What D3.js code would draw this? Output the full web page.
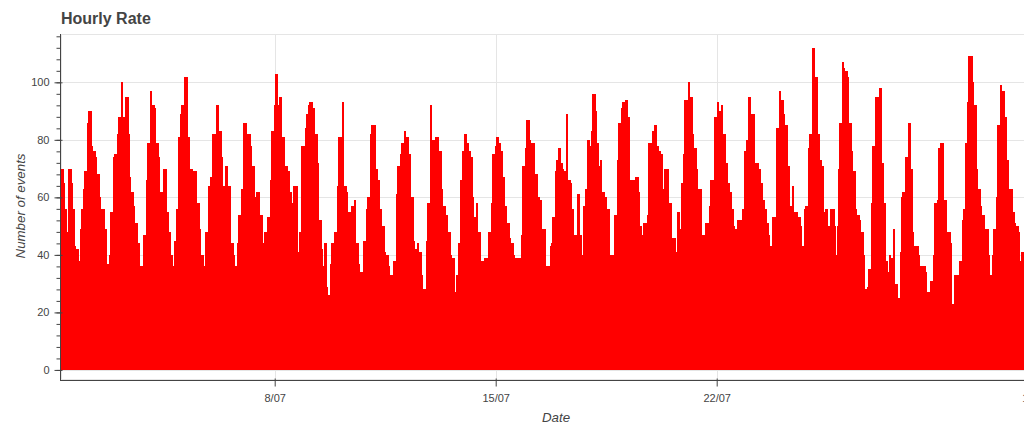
<!DOCTYPE html>
<html>
<head>
<meta charset="utf-8">
<script src="https://cdn.jsdelivr.net/npm/d3@7"></script>
<style>
  html, body { margin: 0; padding: 0; background: #fff; overflow: hidden; }
  svg { display: block; font-family: "Liberation Sans", Arial, Helvetica, sans-serif; }
</style>
</head>
<body>
<svg id="chart" width="1024" height="426"></svg>
<script>
// ---------------- data (hourly event counts) ----------------
const firstHour = "2019-07-01T06:00:00Z"; // first visible hourly bar
const countsJul01to04 = [70,70,65,56,48,48,70,70,65,56,43,42,42,38,38,49,56,63,69,69,86,90,90,78,76,76,74,68,68,60,56,56,56,49,49,37,33,40,55,55,74,75,75,82,88,88,100,88,88,95,95,82,67,62,62,57,51,51,44,44,36,36,36,47,47,66,79,79,97,92,92,91,79,79,74,62,62,61,70,70,55,55,48,40,40,36,45,45,56,81,81,89];
const countsJul05to08 = [92,92,102,102,81,81,70,70,58,69,69,58,58,49,40,40,36,32,48,48,64,64,67,82,82,82,92,92,83,83,74,64,64,71,71,64,64,44,44,40,36,36,44,54,54,63,63,86,86,79,82,82,78,71,71,60,60,62,62,54,54,44,44,48,48,53,53,66,83,83,92,103,103,92,95,95,81,81,71,71,69,69,62,58,58,64,64,64,41,48,48,78,78];
const countsJul09to12 = [78,84,89,92,93,93,91,91,82,82,72,52,52,42,36,44,44,29,26,26,37,44,44,48,48,64,81,81,81,93,64,64,62,55,55,48,57,57,59,44,44,37,34,34,28,45,45,56,60,60,82,85,85,85,70,70,66,56,56,50,50,41,40,40,36,33,33,28,38,38,61,71,71,75,79,79,83,81,81,66,75,60,60,45,42,42,44,41,41,33,28,28];
const countsJul12to16 = [28,45,58,58,92,80,80,76,81,81,76,76,63,57,57,48,54,48,48,40,39,39,27,27,33,44,44,66,76,76,82,79,79,76,74,74,60,53,53,58,48,48,38,38,38,39,39,32,48,48,58,75,75,78,81,81,79,76,76,67,57,57,51,51,46,44,44,40,39,39,36,39,39,47,71,71,77,87,87,80,79,79,79,68,68,60,60,59,49,49,49,36,36];
const countsJul16to20 = [36,36,43,44,53,53,69,73,77,77,72,70,69,69,89,66,66,65,56,56,47,47,47,61,47,47,40,57,57,63,80,80,78,83,96,96,90,79,79,71,73,62,62,53,60,56,56,40,40,40,40,54,54,73,86,86,91,93,93,94,94,88,66,66,66,66,65,67,67,62,50,43,47,51,51,38,54,79,79,75,83,85,85,78,76,76,75,63,63,70,70];
const countsJul20to24 = [70,50,58,46,46,46,41,41,55,49,49,65,75,94,94,92,100,95,95,82,77,77,70,63,63,63,47,47,43,51,51,51,57,66,66,66,88,88,93,90,90,92,82,82,72,72,65,62,62,56,50,49,49,52,52,52,38,56,56,76,80,80,95,89,89,89,72,72,72,70,70,65,59,59,56,51,51,47,43,43,53,53,53,84,84,97,94,94,89,85,85,71];
const countsJul24to27 = [71,57,57,64,55,55,55,53,53,50,43,43,56,57,57,77,82,82,112,112,102,102,82,82,73,71,71,55,56,56,50,50,56,56,56,50,40,50,70,86,86,107,105,104,104,102,86,86,76,69,69,56,54,54,52,48,48,40,28,28,29,35,35,58,78,78,95,95,95,98,98,72,58,58,38,34,34,40,39,39,49,30,30,25,25,41,60,62,62,74,74];
const countsJul28to31 = [86,86,70,48,43,43,43,43,40,36,36,36,36,34,27,27,21,31,31,40,58,58,59,77,77,79,79,59,59,48,48,48,44,23,23,33,33,33,33,38,38,52,56,56,79,93,109,109,109,100,92,92,70,63,63,57,54,54,45,49,49,40,33,33,40,49,49,60,85,85,99,96,97,88,88,73,63,63,63,55,55,51,50,50,48,38,41,41,40];

const xTickDates = ["2019-07-01", "2019-07-08", "2019-07-15", "2019-07-22", "2019-08-01"];
const yMajorTicks = [0, 20, 40, 60, 80, 100];
const yMinorTicks = [0,4,8,12,16,20,24,28,32,36,40,44,48,52,56,60,64,68,72,76,80,84,88,92,96,100,104,108,112,116];
const titleText = "Hourly Rate";
const xTitle = "Date";
const yTitle = "Number of events";

// ---------------- build ----------------
const counts = [].concat(countsJul01to04, countsJul05to08, countsJul09to12, countsJul12to16,
                         countsJul16to20, countsJul20to24, countsJul24to27, countsJul28to31);
const t0 = new Date(firstHour).getTime();
const HOUR = 3600 * 1000;
const data = counts.map((v, i) => ({ t: new Date(t0 + i * HOUR), v }));

const svg = d3.select("#chart");
const frame = { left: 61, right: 1060, top: 34, bottom: 380 };

const x = d3.scaleUtc()
  .domain([new Date("2019-07-01T00:00:00Z"), new Date("2019-08-01T00:00:00Z")])
  .range([53.7, 1032.4]);
const y = d3.scaleLinear().domain([-3.5, 116.8]).range([frame.bottom, frame.top]);

const textColor = "#444444";
const axisColor = "#444444";

// clip
svg.append("defs").append("clipPath").attr("id", "plotclip")
  .append("rect").attr("x", frame.left).attr("y", frame.top)
  .attr("width", frame.right - frame.left).attr("height", frame.bottom - frame.top);

// outline
svg.append("rect")
  .attr("x", frame.left + 0.5).attr("y", frame.top + 0.5)
  .attr("width", frame.right - frame.left).attr("height", frame.bottom - frame.top - 1)
  .attr("fill", "none").attr("stroke", "#e5e5e5");

// grid
const grid = svg.append("g").attr("clip-path", "url(#plotclip)");
grid.selectAll("line.hg").data(yMajorTicks).join("line")
  .attr("x1", frame.left).attr("x2", frame.right)
  .attr("y1", d => Math.round(y(d)) + 0.5).attr("y2", d => Math.round(y(d)) + 0.5)
  .attr("stroke", "#e5e5e5");
grid.selectAll("line.vg").data(xTickDates.map(d => new Date(d + "T00:00:00Z"))).join("line")
  .attr("y1", frame.top).attr("y2", frame.bottom)
  .attr("x1", d => Math.round(x(d)) + 0.5).attr("x2", d => Math.round(x(d)) + 0.5)
  .attr("stroke", "#e5e5e5");

// bars (edges snapped to whole pixels so neighbouring bars leave no seams)
const halfHour = HOUR / 2;
const xl = d => Math.floor(x(new Date(d.t.getTime() - halfHour)));
const xr = d => Math.ceil(x(new Date(d.t.getTime() + halfHour)));
svg.append("g").attr("clip-path", "url(#plotclip)")
  .attr("shape-rendering", "crispEdges")
  .selectAll("rect").data(data).join("rect")
  .attr("x", xl)
  .attr("width", d => xr(d) - xl(d))
  .attr("y", d => Math.round(y(d.v)))
  .attr("height", d => Math.round(y(0)) - Math.round(y(d.v)))
  .attr("fill", "#ff0000");

// y axis
const yAxisG = svg.append("g").attr("transform", `translate(${frame.left - 0.5},0)`);
yAxisG.append("line").attr("x1", 0).attr("x2", 0).attr("y1", frame.top).attr("y2", frame.bottom)
  .attr("stroke", axisColor);
const yMinor = d3.axisLeft(y).tickValues(yMinorTicks).tickSize(4).tickFormat("");
const yMinorG = yAxisG.append("g").call(yMinor);
yMinorG.select(".domain").remove();
yMinorG.selectAll("line").attr("stroke", axisColor);
const yMajor = d3.axisLeft(y).tickValues(yMajorTicks).tickSize(6).tickPadding(5);
const yMajorG = yAxisG.append("g").call(yMajor);
yMajorG.select(".domain").remove();
yMajorG.selectAll("line").attr("x1", 2).attr("stroke", axisColor);
yMajorG.selectAll("text").attr("fill", textColor).style("font-size", "11px")
  .style("font-family", '"Liberation Sans", Arial, sans-serif');

// x axis
const xAxisG = svg.append("g").attr("transform", `translate(0,${frame.bottom + 0.5})`);
xAxisG.append("line").attr("x1", frame.left - 1).attr("x2", frame.right).attr("y1", 0).attr("y2", 0)
  .attr("stroke", axisColor);
const xAxis = d3.axisBottom(x)
  .tickValues(xTickDates.map(d => new Date(d + "T00:00:00Z")))
  .tickFormat(d3.utcFormat("%-d/%m"))
  .tickSize(6).tickPadding(8);
const xAxisInner = xAxisG.append("g").call(xAxis);
xAxisInner.select(".domain").remove();
xAxisInner.selectAll(".tick").filter(d => x(d) < frame.left).remove();
xAxisInner.selectAll("line").attr("y1", -2).attr("stroke", axisColor);
xAxisInner.selectAll("text").attr("fill", textColor).style("font-size", "11px")
  .style("font-family", '"Liberation Sans", Arial, sans-serif');

// titles
svg.append("text").attr("x", frame.left).attr("y", 24)
  .attr("fill", textColor).style("font-size", "16px").style("font-weight", "bold")
  .text(titleText);
svg.append("text").attr("x", 556).attr("y", 422).attr("text-anchor", "middle")
  .attr("fill", textColor).style("font-size", "13.3px").style("font-style", "italic")
  .text(xTitle);
svg.append("text").attr("transform", "translate(25,206) rotate(-90)").attr("text-anchor", "middle")
  .attr("fill", textColor).style("font-size", "13.3px").style("font-style", "italic")
  .text(yTitle);
</script>
</body>
</html>
